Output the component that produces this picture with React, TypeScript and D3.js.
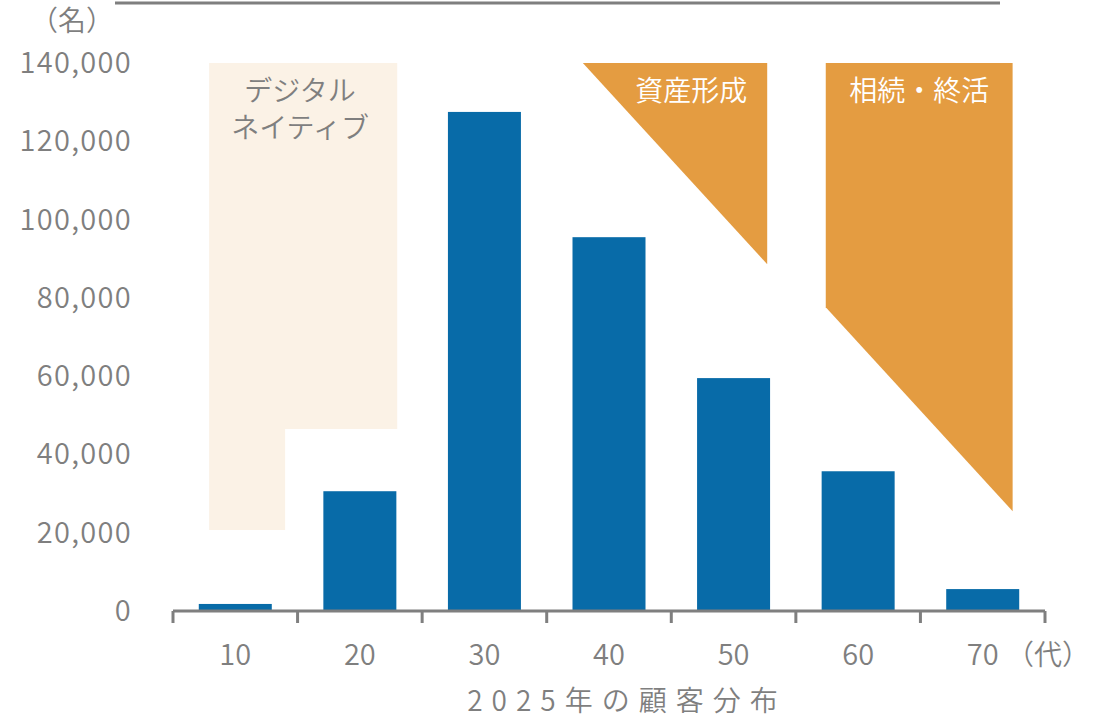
import React from "react";
import * as d3 from "d3";

const ages = ["10", "20", "30", "40", "50", "60", "70"];
const customers = [1800, 30600, 127500, 95500, 59500, 35700, 5600];
const yTicks = [0, 20000, 40000, 60000, 80000, 100000, 120000, 140000];

// annotation regions: x in band units (0 = left edge of first band), y in data units
const digitalNativeX = [0.29, 1.8, 1.8, 0.9, 0.9, 0.29];
const digitalNativeY = [140000, 140000, 46500, 46500, 20700, 20700];
const assetX = [3.29, 4.77, 4.77];
const assetY = [140000, 140000, 88600];
const endOfLifeX = [5.24, 6.74, 6.74, 5.24];
const endOfLifeY = [140000, 140000, 25500, 77600];

const W = 1102;
const H = 720;
const FONT = "'Noto Sans CJK JP', 'Noto Sans', sans-serif";
const GRAY = "#7f7f7f";
const BLUE = "#086ba8";
const ORANGE = "#e49c41";
const BEIGE = "#fbf2e6";

export default function App() {
  const x = d3.scaleBand<string>().domain(ages).range([173, 1045]).paddingInner(0.414).paddingOuter(0.207);
  const y = d3.scaleLinear().domain([0, 140000]).range([611, 63]);
  const step = x.step();
  const x0 = x.range()[0];
  const bx = (u: number) => x0 + u * step;
  const poly = (xs: number[], ys: number[]) =>
    xs.map((u, i) => `${bx(u)},${y(ys[i])}`).join(" ");
  const fmt = d3.format(",");

  return (
    <svg width={W} height={H} style={{ position: "absolute", left: 0, top: 0, fontFamily: FONT, fontWeight: 350 }}>
      <line x1={115} x2={1000} y1={3} y2={3} stroke={GRAY} strokeWidth={3} />
      <polygon points={poly(digitalNativeX, digitalNativeY)} fill={BEIGE} />
      <polygon points={poly(assetX, assetY)} fill={ORANGE} />
      <polygon points={poly(endOfLifeX, endOfLifeY)} fill={ORANGE} />
      <text x={bx(1.02)} y={101} textAnchor="middle" fontSize={28} fill={GRAY}>デジタル</text>
      <text x={bx(1.02)} y={138} textAnchor="middle" fontSize={28} fill={GRAY}>ネイティブ</text>
      <text x={bx(4.16)} y={101} textAnchor="middle" fontSize={28} fill="#fff">資産形成</text>
      <text x={bx(5.99)} y={101} textAnchor="middle" fontSize={28} fill="#fff">相続・終活</text>

      {ages.map((a, i) => (
        <rect key={a} x={x(a)} width={x.bandwidth()} y={y(customers[i])} height={y(0) - y(customers[i])} fill={BLUE} />
      ))}

      <line x1={x0} x2={x.range()[1]} y1={y(0)} y2={y(0)} stroke={GRAY} strokeWidth={3} />
      {d3.range(ages.length + 1).map((i) => (
        <line key={i} x1={bx(i)} x2={bx(i)} y1={y(0)} y2={y(0) + 12} stroke={GRAY} strokeWidth={3} />
      ))}
      {ages.map((a) => (
        <text key={a} x={(x(a) as number) + x.bandwidth() / 2} y={665} textAnchor="middle" fontSize={29} fill={GRAY}>
          {a}
        </text>
      ))}
      <text x={1048} y={665} textAnchor="middle" fontSize={28} fill={GRAY}>（代）</text>
      {yTicks.map((t) => (
        <text key={t} x={132} y={y(t) + 10} textAnchor="end" fontSize={29} fill={GRAY} letterSpacing={1.3}>
          {fmt(t)}
        </text>
      ))}
      <text x={72} y={31} textAnchor="middle" fontSize={28} fill={GRAY}>（名）</text>
      <text x={627} y={711} textAnchor="middle" fontSize={28} fill={GRAY} letterSpacing={9}>2025年の顧客分布</text>
    </svg>
  );
}
